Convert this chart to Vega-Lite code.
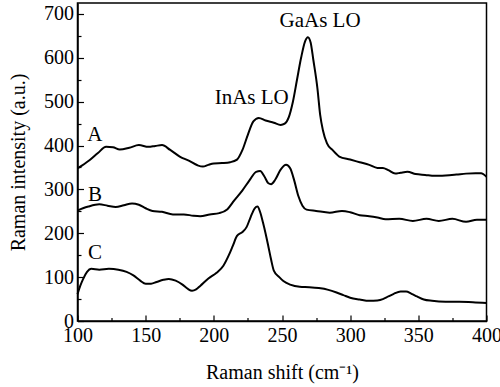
{
  "$schema": "https://vega.github.io/schema/vega-lite/v6.json",
  "width": 409,
  "height": 318,
  "autosize": "none",
  "padding": {"left": 77.5, "top": 3, "right": 13.5, "bottom": 66},
  "config": {
    "view": {"stroke": "black", "strokeWidth": 1.5},
    "font": "Liberation Serif",
    "axis": {
      "grid": false,
      "domainColor": "black",
      "domainWidth": 1.5,
      "tickColor": "black",
      "tickWidth": 1.2,
      "labelColor": "black",
      "titleColor": "black",
      "labelFont": "Liberation Serif",
      "titleFont": "Liberation Serif",
      "labelFontSize": 20,
      "titleFontSize": 20,
      "titleFontWeight": "normal",
      "labelFlush": false,
      "labelOverlap": false
    }
  },
  "datasets": {
    "lines": [
      {"s": "A", "x": 100, "y": 348}, {"s": "A", "x": 105, "y": 358}, {"s": "A", "x": 109, "y": 367}, {"s": "A", "x": 115, "y": 383},
      {"s": "A", "x": 121, "y": 397}, {"s": "A", "x": 126, "y": 396}, {"s": "A", "x": 131, "y": 391}, {"s": "A", "x": 138, "y": 395},
      {"s": "A", "x": 145, "y": 401}, {"s": "A", "x": 152, "y": 397}, {"s": "A", "x": 157, "y": 399}, {"s": "A", "x": 162, "y": 401},
      {"s": "A", "x": 168, "y": 390}, {"s": "A", "x": 175, "y": 375}, {"s": "A", "x": 182, "y": 365}, {"s": "A", "x": 188, "y": 355},
      {"s": "A", "x": 192, "y": 352}, {"s": "A", "x": 196, "y": 356}, {"s": "A", "x": 200, "y": 359}, {"s": "A", "x": 206, "y": 360},
      {"s": "A", "x": 212, "y": 362}, {"s": "A", "x": 217, "y": 368}, {"s": "A", "x": 221, "y": 390}, {"s": "A", "x": 225, "y": 425},
      {"s": "A", "x": 229, "y": 455}, {"s": "A", "x": 233, "y": 463}, {"s": "A", "x": 238, "y": 457}, {"s": "A", "x": 244, "y": 452},
      {"s": "A", "x": 249, "y": 447}, {"s": "A", "x": 252, "y": 450}, {"s": "A", "x": 255, "y": 465}, {"s": "A", "x": 258, "y": 500},
      {"s": "A", "x": 261, "y": 550}, {"s": "A", "x": 264, "y": 600}, {"s": "A", "x": 267, "y": 638}, {"s": "A", "x": 269, "y": 647},
      {"s": "A", "x": 271, "y": 635}, {"s": "A", "x": 273, "y": 595}, {"s": "A", "x": 276, "y": 530}, {"s": "A", "x": 278, "y": 470},
      {"s": "A", "x": 280, "y": 435}, {"s": "A", "x": 283, "y": 405}, {"s": "A", "x": 287, "y": 390}, {"s": "A", "x": 292, "y": 375},
      {"s": "A", "x": 300, "y": 368}, {"s": "A", "x": 307, "y": 362}, {"s": "A", "x": 314, "y": 356}, {"s": "A", "x": 320, "y": 349},
      {"s": "A", "x": 324, "y": 349}, {"s": "A", "x": 328, "y": 344}, {"s": "A", "x": 333, "y": 336}, {"s": "A", "x": 337, "y": 338},
      {"s": "A", "x": 342, "y": 340}, {"s": "A", "x": 348, "y": 335}, {"s": "A", "x": 355, "y": 333}, {"s": "A", "x": 362, "y": 331},
      {"s": "A", "x": 370, "y": 332}, {"s": "A", "x": 378, "y": 334}, {"s": "A", "x": 385, "y": 336}, {"s": "A", "x": 392, "y": 337},
      {"s": "A", "x": 396, "y": 337}, {"s": "A", "x": 400, "y": 329},
      {"s": "B", "x": 100, "y": 252}, {"s": "B", "x": 104, "y": 257}, {"s": "B", "x": 108, "y": 261}, {"s": "B", "x": 116, "y": 266},
      {"s": "B", "x": 122, "y": 263}, {"s": "B", "x": 128, "y": 260}, {"s": "B", "x": 134, "y": 264}, {"s": "B", "x": 140, "y": 268},
      {"s": "B", "x": 145, "y": 265}, {"s": "B", "x": 150, "y": 257}, {"s": "B", "x": 155, "y": 251}, {"s": "B", "x": 162, "y": 249},
      {"s": "B", "x": 170, "y": 243}, {"s": "B", "x": 178, "y": 243}, {"s": "B", "x": 185, "y": 240}, {"s": "B", "x": 190, "y": 239},
      {"s": "B", "x": 197, "y": 243}, {"s": "B", "x": 204, "y": 246}, {"s": "B", "x": 210, "y": 255}, {"s": "B", "x": 215, "y": 275},
      {"s": "B", "x": 221, "y": 298}, {"s": "B", "x": 226, "y": 320}, {"s": "B", "x": 231, "y": 340}, {"s": "B", "x": 234, "y": 342},
      {"s": "B", "x": 237, "y": 330}, {"s": "B", "x": 240, "y": 314}, {"s": "B", "x": 242, "y": 312}, {"s": "B", "x": 245, "y": 322},
      {"s": "B", "x": 249, "y": 345}, {"s": "B", "x": 253, "y": 356}, {"s": "B", "x": 256, "y": 348}, {"s": "B", "x": 259, "y": 320},
      {"s": "B", "x": 262, "y": 285}, {"s": "B", "x": 265, "y": 263}, {"s": "B", "x": 268, "y": 254}, {"s": "B", "x": 275, "y": 251},
      {"s": "B", "x": 285, "y": 247}, {"s": "B", "x": 294, "y": 251}, {"s": "B", "x": 300, "y": 248}, {"s": "B", "x": 307, "y": 241},
      {"s": "B", "x": 314, "y": 239}, {"s": "B", "x": 320, "y": 236}, {"s": "B", "x": 326, "y": 232}, {"s": "B", "x": 336, "y": 233},
      {"s": "B", "x": 346, "y": 228}, {"s": "B", "x": 356, "y": 233}, {"s": "B", "x": 365, "y": 228}, {"s": "B", "x": 375, "y": 233},
      {"s": "B", "x": 385, "y": 226}, {"s": "B", "x": 393, "y": 231}, {"s": "B", "x": 400, "y": 231},
      {"s": "C", "x": 100, "y": 61}, {"s": "C", "x": 102, "y": 80}, {"s": "C", "x": 104, "y": 95}, {"s": "C", "x": 107, "y": 112},
      {"s": "C", "x": 110, "y": 119}, {"s": "C", "x": 116, "y": 117}, {"s": "C", "x": 123, "y": 119}, {"s": "C", "x": 130, "y": 117},
      {"s": "C", "x": 136, "y": 112}, {"s": "C", "x": 141, "y": 104}, {"s": "C", "x": 146, "y": 92}, {"s": "C", "x": 150, "y": 85},
      {"s": "C", "x": 154, "y": 85}, {"s": "C", "x": 158, "y": 89}, {"s": "C", "x": 163, "y": 94}, {"s": "C", "x": 167, "y": 96},
      {"s": "C", "x": 172, "y": 92}, {"s": "C", "x": 177, "y": 83}, {"s": "C", "x": 181, "y": 73}, {"s": "C", "x": 184, "y": 69},
      {"s": "C", "x": 187, "y": 72}, {"s": "C", "x": 190, "y": 80}, {"s": "C", "x": 196, "y": 97}, {"s": "C", "x": 202, "y": 110},
      {"s": "C", "x": 207, "y": 126}, {"s": "C", "x": 211, "y": 150}, {"s": "C", "x": 214, "y": 172}, {"s": "C", "x": 217, "y": 194},
      {"s": "C", "x": 221, "y": 203}, {"s": "C", "x": 224, "y": 214}, {"s": "C", "x": 227, "y": 237}, {"s": "C", "x": 230, "y": 257},
      {"s": "C", "x": 232, "y": 261}, {"s": "C", "x": 234, "y": 248}, {"s": "C", "x": 236, "y": 225}, {"s": "C", "x": 238, "y": 199},
      {"s": "C", "x": 240, "y": 170}, {"s": "C", "x": 242, "y": 140}, {"s": "C", "x": 244, "y": 115}, {"s": "C", "x": 248, "y": 100},
      {"s": "C", "x": 251, "y": 91}, {"s": "C", "x": 256, "y": 83}, {"s": "C", "x": 263, "y": 78}, {"s": "C", "x": 270, "y": 77},
      {"s": "C", "x": 277, "y": 75}, {"s": "C", "x": 284, "y": 71}, {"s": "C", "x": 290, "y": 65}, {"s": "C", "x": 295, "y": 59},
      {"s": "C", "x": 300, "y": 53}, {"s": "C", "x": 307, "y": 49}, {"s": "C", "x": 314, "y": 46}, {"s": "C", "x": 320, "y": 47},
      {"s": "C", "x": 324, "y": 50}, {"s": "C", "x": 328, "y": 56}, {"s": "C", "x": 332, "y": 62}, {"s": "C", "x": 337, "y": 67},
      {"s": "C", "x": 341, "y": 67}, {"s": "C", "x": 345, "y": 62}, {"s": "C", "x": 349, "y": 56}, {"s": "C", "x": 354, "y": 49},
      {"s": "C", "x": 360, "y": 46}, {"s": "C", "x": 370, "y": 44}, {"s": "C", "x": 380, "y": 44}, {"s": "C", "x": 390, "y": 43},
      {"s": "C", "x": 400, "y": 41}
    ],
    "labels": [
      {"t": "A", "x": 112.8, "y": 424},
      {"t": "B", "x": 112.8, "y": 287},
      {"t": "C", "x": 112.8, "y": 155},
      {"t": "InAs LO", "x": 227.8, "y": 508},
      {"t": "GaAs LO", "x": 277.9, "y": 684}
    ]
  },
  "encoding": {
    "x": {
      "field": "x",
      "type": "quantitative",
      "scale": {"domain": [100, 400], "nice": false, "zero": false},
      "axis": {
        "title": "Raman shift (cm⁻¹)",
        "values": [100, 125, 150, 175, 200, 225, 250, 275, 300, 325, 350, 375, 400],
        "labelExpr": "datum.value % 50 === 0 ? datum.label : ''",
        "tickSize": {"condition": {"test": "datum.value % 50 === 0", "value": -6}, "value": -3.5},
        "labelPadding": 10,
        "titlePadding": 15
      }
    },
    "y": {
      "field": "y",
      "type": "quantitative",
      "scale": {"domain": [0, 725], "nice": false},
      "axis": {
        "title": "Raman intensity (a.u.)",
        "values": [0, 50, 100, 150, 200, 250, 300, 350, 400, 450, 500, 550, 600, 650, 700],
        "labelExpr": "datum.value % 100 === 0 ? datum.label : ''",
        "tickSize": {"condition": {"test": "datum.value % 100 === 0", "value": -6}, "value": -3.5},
        "labelPadding": 10,
        "titlePadding": 15
      }
    }
  },
  "layer": [
    {
      "data": {"name": "lines"},
      "mark": {"type": "line", "color": "black", "strokeWidth": 2, "interpolate": "monotone"},
      "encoding": {"detail": {"field": "s"}}
    },
    {
      "data": {"name": "labels"},
      "mark": {"type": "text", "font": "Liberation Serif", "fontSize": 21, "color": "black", "align": "center", "baseline": "middle"},
      "encoding": {"text": {"field": "t"}}
    }
  ]
}
